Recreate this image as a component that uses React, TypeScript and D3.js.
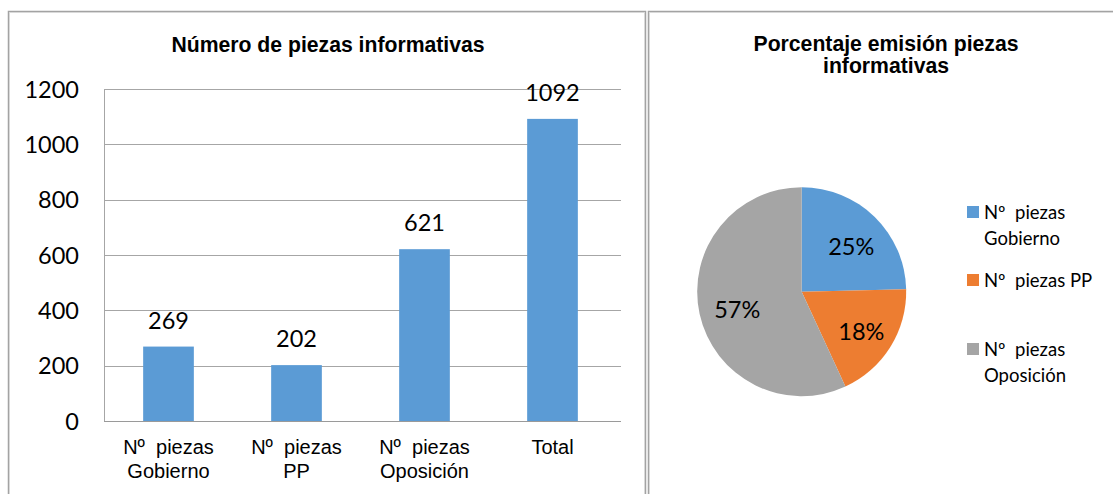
import * as d3 from "d3";

// bar chart data
const barCategories = [["Nº  piezas", "Gobierno"], ["Nº  piezas", "PP"], ["Nº  piezas", "Oposición"], ["Total"]];
const barValues = [269, 202, 621, 1092];
const yTicks = [0, 200, 400, 600, 800, 1000, 1200];

// pie chart data
const pieNames = [["Nº  piezas", "Gobierno"], ["Nº  piezas PP"], ["Nº  piezas", "Oposición"]];
const pieValues = [269, 202, 621];
const pieColors = ["#5B9BD5", "#ED7D31", "#A5A5A5"];

const WIDTH = 1113;
const HEIGHT = 494;
const numFont = "Lato, 'Open Sans', sans-serif";
const arialFont = "'Liberation Sans', Arial, sans-serif";

function BarChart() {
  const x = d3.scaleBand<number>()
    .domain(barValues.map((_, i) => i))
    .range([104.5, 616.5])
    .paddingInner(0.604)
    .paddingOuter(0.302);
  const y = d3.scaleLinear([0, 1200], [421, 89]);

  return (
    <g>
      <text x={328} y={52} textAnchor="middle" fontFamily={arialFont} fontWeight="bold" fontSize={21.2}>
        Número de piezas informativas
      </text>
      {yTicks.map((t) => (
        <g key={t}>
          <line x1={104} x2={621} y1={Math.round(y(t)) + 0.5} y2={Math.round(y(t)) + 0.5} stroke="#a6a6a6" strokeWidth={1} />
          <text x={79} y={y(t) + 8.5} textAnchor="end" fontFamily={numFont} fontSize={23.5}>{t}</text>
        </g>
      ))}
      <line x1={104.5} x2={104.5} y1={89} y2={421} stroke="#a6a6a6" />
      {barValues.map((v, i) => (
        <g key={i}>
          <rect x={x(i)} y={y(v)} width={x.bandwidth()} height={y(0) - y(v)} fill="#5B9BD5" />
          <text x={x(i)! + x.bandwidth() / 2} y={y(v) - 18} textAnchor="middle" fontFamily={numFont} fontSize={23.5}>{v}</text>
          {barCategories[i].map((line, j) => (
            <text key={j} x={x(i)! + x.bandwidth() / 2} y={454 + j * 24} textAnchor="middle"
              fontFamily={arialFont} fontSize={20} style={{ whiteSpace: "pre" }}>{line}</text>
          ))}
        </g>
      ))}
      <line x1={104} x2={621} y1={421.5} y2={421.5} stroke="#9a9a9a" />
    </g>
  );
}

function PieChart() {
  const cx = 801.7;
  const cy = 291.7;
  const r = 104.5;
  const total = d3.sum(pieValues);
  const pie = d3.pie<number>().sort(null).value((d) => d);
  const arcs = pie(pieValues);
  const arc = d3.arc<d3.PieArcDatum<number>>().innerRadius(0).outerRadius(r);
  const labelArc = d3.arc<d3.PieArcDatum<number>>().innerRadius(68).outerRadius(68);
  const pct = d3.format(".0%");

  const legendTop = [206, 274, 343];

  return (
    <g>
      <text x={886} y={51} textAnchor="middle" fontFamily={arialFont} fontWeight="bold" fontSize={21.2}>
        Porcentaje emisión piezas
      </text>
      <text x={886} y={73} textAnchor="middle" fontFamily={arialFont} fontWeight="bold" fontSize={21.2}>
        informativas
      </text>
      <g transform={`translate(${cx},${cy})`}>
        {arcs.map((a, i) => (
          <path key={i} d={arc(a)!} fill={pieColors[i]} />
        ))}
        {arcs.map((a, i) => {
          const [lx, ly] = labelArc.centroid(a);
          return (
            <text key={i} x={lx + 2} y={ly + 12} textAnchor="middle" fontFamily={numFont} fontSize={23.5}>
              {pct(a.data / total)}
            </text>
          );
        })}
      </g>
      {pieNames.map((lines, i) => (
        <g key={i}>
          <rect x={967} y={legendTop[i]} width={12} height={12} fill={pieColors[i]} />
          {lines.map((line, j) => (
            <text key={j} x={984} y={legendTop[i] + 12.5 + j * 26.5} fontFamily={numFont} fontSize={18.5}
              style={{ whiteSpace: "pre" }}>{line}</text>
          ))}
        </g>
      ))}
    </g>
  );
}

export default function App() {
  return (
    <svg width={WIDTH} height={HEIGHT} style={{ position: "absolute", left: 0, top: 0, background: "#fff" }}>
      <rect x={0} y={0} width={WIDTH} height={HEIGHT} fill="#fff" />
      {/* chart frames */}
      <path d="M8.5,500 V11.5 H645.5 V500" fill="none" stroke="#a3a3a3" strokeWidth={1.5} />
      <path d="M9.5,500 V12.5 H644.5 V500" fill="none" stroke="#d9d9d9" strokeWidth={1} />
      <path d="M648.5,500 V11.5 H1120" fill="none" stroke="#a3a3a3" strokeWidth={1.5} />
      <path d="M649.5,500 V12.5 H1120" fill="none" stroke="#d9d9d9" strokeWidth={1} />
      <BarChart />
      <PieChart />
    </svg>
  );
}
